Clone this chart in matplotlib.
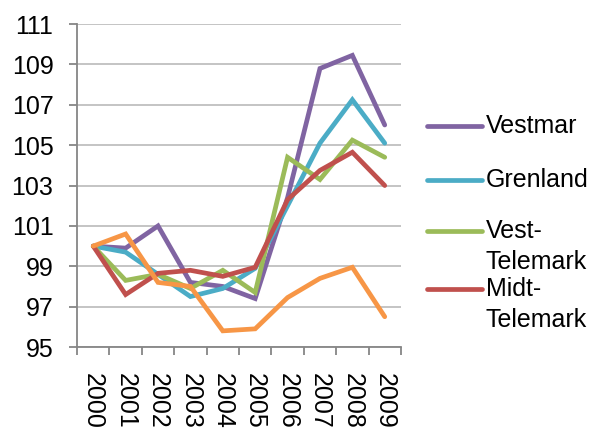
import matplotlib
matplotlib.use("Agg")
import matplotlib.pyplot as plt
from matplotlib.lines import Line2D

plt.rcParams['font.family'] = ['Liberation Sans', 'DejaVu Sans']

years = ['2000', '2001', '2002', '2003', '2004', '2005', '2006', '2007', '2008', '2009']
vestmar = [100.0, 99.9, 101.0, 98.2, 98.0, 97.4, 102.4, 108.8, 109.45, 106.0]
grenland = [100.0, 99.7, 98.6, 97.5, 97.9, 98.9, 102.0, 105.1, 107.25, 105.1]
vest_telemark = [100.0, 98.3, 98.6, 97.9, 98.8, 97.7, 104.4, 103.3, 105.25, 104.4]
midt_telemark = [100.0, 97.6, 98.65, 98.8, 98.5, 98.95, 102.3, 103.75, 104.65, 103.0]
other = [100.0, 100.6, 98.2, 98.0, 95.8, 95.9, 97.45, 98.4, 98.95, 96.5]

series = [vestmar, grenland, vest_telemark, midt_telemark, other]
colors = ['#8064A2', '#4BACC6', '#9BBB59', '#C0504D', '#F79646']
legend_labels = ['Vestmar', 'Grenland', 'Vest-\nTelemark', 'Midt-\nTelemark']
yticks = [95, 97, 99, 101, 103, 105, 107, 109, 111]

FS = 18

fig = plt.figure(figsize=(6.02, 4.30), dpi=100)
ax = fig.add_axes([0.128, 0.193, 0.538, 0.751])

x = list(range(len(years)))
for vals, c in zip(series, colors):
    ax.plot(x, vals, color=c, lw=3.4, solid_capstyle='round', solid_joinstyle='miter', zorder=3)

ax.set_xlim(-0.5, len(years) - 0.5)
ax.set_ylim(95, 111)
ax.set_yticks(yticks)
ax.set_yticklabels([str(v) for v in yticks])
ax.yaxis.grid(True, color='#BFBFBF', lw=1.3)
ax.set_axisbelow(True)

ax.set_xticks([i - 0.5 for i in range(len(years) + 1)])
ax.set_xticklabels([])
ax.set_xticks(x, minor=True)
ax.set_xticklabels(years, minor=True, rotation=270, fontsize=FS)
ax.tick_params(axis='x', which='minor', length=0, pad=19)
ax.tick_params(axis='x', which='major', length=6, width=1.3, color='#868686', direction='out')
ax.tick_params(axis='y', length=6, width=1.3, color='#868686', labelsize=FS, pad=11)

for side in ['top', 'right']:
    ax.spines[side].set_visible(False)
for side in ['left', 'bottom']:
    ax.spines[side].set_color('#868686')
    ax.spines[side].set_linewidth(1.3)

# legend drawn by hand so the handle sits on the first text line
W, H = 602, 430
entry_y = [126, 180, 231, 289]
line_step = 31
for lab, c, yy in zip(legend_labels, colors, entry_y):
    fig.add_artist(Line2D([427 / W, 482 / W], [1 - yy / H, 1 - yy / H], color=c, lw=3.4,
                          solid_capstyle='round', transform=fig.transFigure))
    for k, part in enumerate(lab.split('\n')):
        fig.text(486 / W, 1 - (yy + k * line_step) / H, part, fontsize=FS, va='center', ha='left')

fig.savefig('out.png', dpi=100)
